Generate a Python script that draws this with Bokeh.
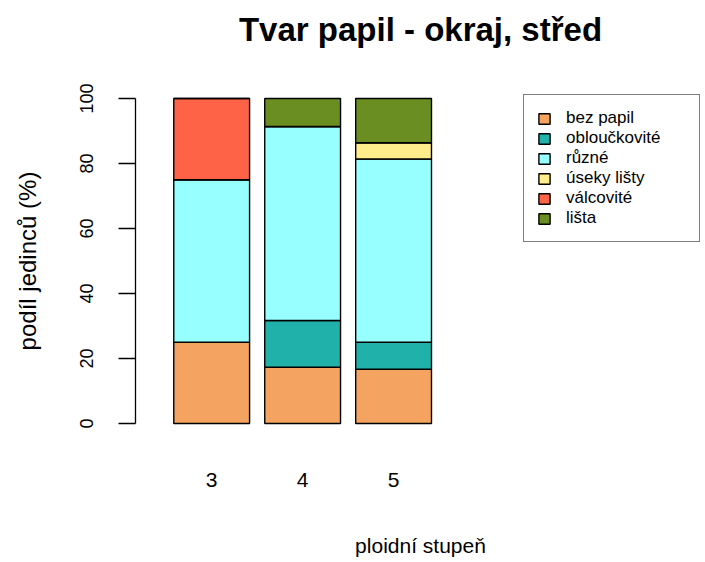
from bokeh.plotting import figure
from bokeh.models import ColumnDataSource, FixedTicker, Legend, LegendItem, Range1d, LinearAxis
from bokeh.embed import file_html
from bokeh.resources import INLINE

# ---- data (percent of individuals) ----
categories = ["3", "4", "5"]
series_names = ["bez papil", "obloučkovité", "různé", "úseky lišty", "válcovité", "lišta"]
bez_papil = [25.0, 17.3, 16.7]
obloouckovite = [0.0, 14.4, 8.3]
ruzne = [50.0, 59.7, 56.4]
useky_listy = [0.0, 0.0, 5.0]
valcovite = [25.0, 0.0, 0.0]
lista = [0.0, 8.6, 13.6]
y_ticks = [0, 20, 40, 60, 80, 100]
title_text = "Tvar papil - okraj, střed"

colors = ["#F4A460", "#20B2AA", "#97FFFF", "#FFEC8B", "#FF6347", "#6B8E23"]

# R barplot-like positions: width 1, space 0.2
bar_x = [round(0.7 + 1.2 * i, 3) for i in range(len(categories))]
keys = ["s0", "s1", "s2", "s3", "s4", "s5"]
source = ColumnDataSource(dict(x=bar_x, s0=bez_papil, s1=obloouckovite, s2=ruzne,
                               s3=useky_listy, s4=valcovite, s5=lista))

FONT = "Liberation Sans"

p = figure(width=705, height=562, output_backend="svg", toolbar_location=None,
           x_range=Range1d(-0.305, 7.215), y_range=Range1d(-4, 104),
           min_border_left=135, min_border_right=0, min_border_top=85,
           min_border_bottom=126)

renderers = p.vbar_stack(keys, x="x", width=1.0, source=source,
                         fill_color=colors, line_color="black", line_width=1.4)

p.xgrid.visible = False
p.ygrid.visible = False
p.outline_line_color = None

xax = p.below[0]
yax = p.left[0]

# y axis
yax.ticker = FixedTicker(ticks=y_ticks)
yax.bounds = (0, 100)
yax.major_tick_out = 17
yax.major_tick_in = 0
yax.minor_tick_line_color = None
yax.axis_line_color = "black"
yax.axis_line_width = 1.3
yax.major_tick_line_color = "black"
yax.major_tick_line_width = 1.3
yax.major_label_orientation = "vertical"
yax.major_label_text_font = FONT
yax.major_label_text_font_size = "18px"
yax.major_label_text_color = "black"
yax.major_label_standoff = 26
yax.axis_label = "podíl jedinců (%)"
yax.axis_label_text_font = FONT
yax.axis_label_text_font_size = "24px"
yax.axis_label_text_font_style = "normal"
yax.axis_label_text_color = "black"
yax.axis_label_standoff = 36

# x axis
xax.ticker = FixedTicker(ticks=bar_x)
xax.major_label_overrides = {x: c for x, c in zip(bar_x, categories)}
xax.axis_line_color = None
xax.major_tick_line_color = None
xax.minor_tick_line_color = None
xax.major_tick_out = 0
xax.major_tick_in = 0
xax.major_label_text_font = FONT
xax.major_label_text_font_size = "21px"
xax.major_label_text_color = "black"
xax.major_label_standoff = 36
xax.axis_label = "ploidní stupeň"
xax.axis_label_text_font = FONT
xax.axis_label_text_font_size = "21px"
xax.axis_label_text_font_style = "normal"
xax.axis_label_text_color = "black"
xax.axis_label_standoff = 44

# title: drawn as the label of an empty axis above the frame
tax = LinearAxis(ticker=FixedTicker(ticks=[]), axis_line_color=None,
                 major_tick_line_color=None, minor_tick_line_color=None,
                 major_tick_out=0, major_tick_in=0, major_label_standoff=0,
                 major_label_text_font_size="0px",
                 axis_label=title_text, axis_label_text_font=FONT,
                 axis_label_text_font_size="33px", axis_label_text_font_style="bold",
                 axis_label_text_color="black", axis_label_standoff=38)
p.add_layout(tax, "above")

# legend
legend = Legend(items=[LegendItem(label=n, renderers=[r]) for n, r in zip(series_names, renderers)],
                location=(388, 194), margin=0, padding=13, spacing=0,
                label_height=20, glyph_height=13, glyph_width=14,
                label_standoff=15, label_width=120,
                label_text_font=FONT, label_text_font_size="17px",
                label_text_color="black",
                border_line_color="black", border_line_width=1.5,
                background_fill_color="white", background_fill_alpha=1.0)
p.add_layout(legend)

open("out.html", "w").write(file_html(p, INLINE))
